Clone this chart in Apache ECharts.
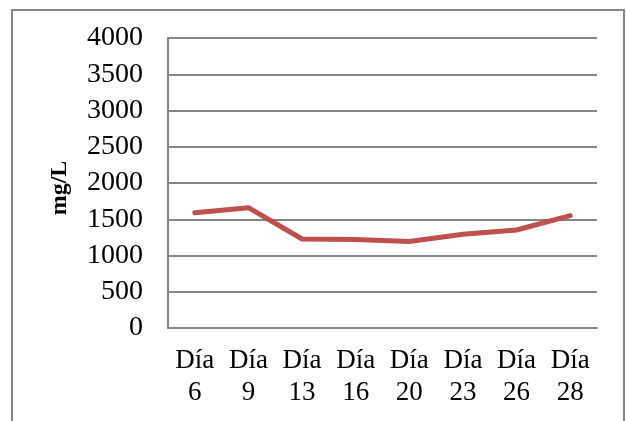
<!DOCTYPE html>
<html>
<head>
<meta charset="utf-8">
<script src="https://cdn.jsdelivr.net/npm/echarts@6/dist/echarts.min.js"></script>
<style>
  html, body { margin: 0; padding: 0; background: #fff; }
  #chart { width: 626px; height: 421px; }
</style>
</head>
<body>
<div id="chart"></div>
<script>
var dias = ['Día\n6', 'Día\n9', 'Día\n13', 'Día\n16', 'Día\n20', 'Día\n23', 'Día\n26', 'Día\n28'];
var valores = [1590, 1660, 1228, 1222, 1192, 1292, 1352, 1550];
var yMin = 0, yMax = 4000, yPaso = 500;

var chart = echarts.init(document.getElementById('chart'));
var gris = '#868686';
var fuente = '"Liberation Serif", serif';

chart.setOption({
  animation: false,
  graphic: [{
    type: 'rect',
    shape: { x: 12, y: 10, width: 612, height: 430 },
    style: { fill: 'none', stroke: gris, lineWidth: 2 },
    silent: true
  }],
  grid: { left: 168, right: 29, top: 38, bottom: 93 },
  xAxis: {
    type: 'category',
    data: dias,
    boundaryGap: true,
    axisLine: { lineStyle: { color: gris, width: 2 } },
    axisTick: { show: false },
    axisLabel: { color: '#000', fontFamily: fuente, fontSize: 27, lineHeight: 32, margin: 17, interval: 0 }
  },
  yAxis: {
    type: 'value',
    min: yMin, max: yMax, interval: yPaso,
    name: 'mg/L',
    nameLocation: 'middle',
    nameGap: 96,
    nameRotate: 90,
    nameTextStyle: { color: '#000', fontFamily: fuente, fontSize: 24, fontWeight: 'bold', padding: [0, 10, 0, 0] },
    axisLine: { show: true, lineStyle: { color: gris, width: 2 } },
    axisTick: { show: false },
    splitLine: { lineStyle: { color: gris, width: 2 } },
    axisLabel: {
      color: '#000', fontFamily: fuente, fontSize: 28, margin: 25,
      formatter: function (v) { return String(v); }
    }
  },
  series: [{
    type: 'line',
    data: valores,
    showSymbol: false,
    symbol: 'none',
    lineStyle: { color: '#C0504D', width: 5, cap: 'round', join: 'round' }
  }]
});
</script>
</body>
</html>
